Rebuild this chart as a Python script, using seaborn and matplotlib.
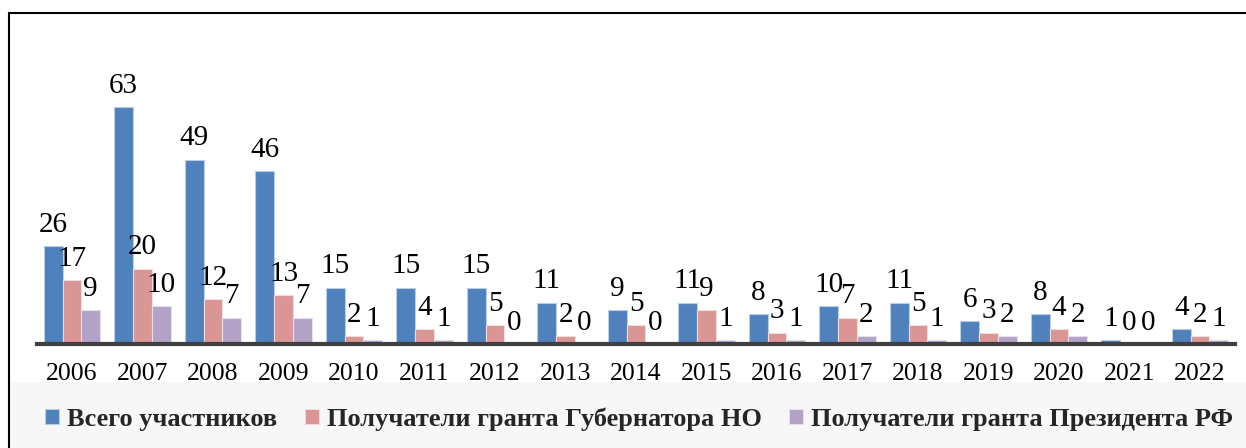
import matplotlib
matplotlib.use("Agg")
import matplotlib.pyplot as plt
from matplotlib.patches import Rectangle, Patch
import seaborn as sns
import pandas as pd

years = ["2006", "2007", "2008", "2009", "2010", "2011", "2012", "2013", "2014",
         "2015", "2016", "2017", "2018", "2019", "2020", "2021", "2022"]
total = [26, 63, 49, 46, 15, 15, 15, 11, 9, 11, 8, 10, 11, 6, 8, 1, 4]
governor = [17, 20, 12, 13, 2, 4, 5, 2, 5, 9, 3, 7, 5, 3, 4, 0, 2]
president = [9, 10, 7, 7, 1, 1, 0, 0, 0, 1, 1, 2, 1, 2, 2, 0, 1]
series_names = ["Всего участников",
                "Получатели гранта Губернатора НО",
                "Получатели гранта Президента РФ"]
colors = ["#4F81BD", "#D99694", "#B3A2C7"]
edge_colors = ["#B9CDE5", "#F2DCDB", "#E6E0EC"]

rows = []
for name, vals in zip(series_names, [total, governor, president]):
    for y, v in zip(years, vals):
        rows.append({"year": y, "value": v, "series": name})
df = pd.DataFrame(rows)

sns.set_theme(style="white")
plt.rcParams["font.family"] = ["Liberation Serif", "DejaVu Serif"]

fig = plt.figure(figsize=(12.46, 4.48), dpi=100)
ax = fig.add_axes([0.0295, 0.2321, 0.9619, 0.5878])

sns.barplot(data=df, x="year", y="value", hue="series", order=years,
            hue_order=series_names, palette=colors, width=0.8,
            ax=ax, legend=False, saturation=1)

for cont, ec in zip(ax.containers, edge_colors):
    for bar in cont:
        bar.set_edgecolor(ec)
        bar.set_linewidth(0.8)
    ax.bar_label(cont, labels=[str(int(b.get_height())) for b in cont],
                 padding=6, fontsize=21, color="black")

ax.set_ylim(0, 70)
ax.set_xlim(-0.5, len(years) - 0.5)
ax.set_xlabel("")
ax.set_ylabel("")
ax.set_yticks([])
for s in ["top", "left", "right"]:
    ax.spines[s].set_visible(False)
ax.spines["bottom"].set_color("#404040")
ax.spines["bottom"].set_linewidth(3)
ax.tick_params(axis="x", length=0, pad=13.5, labelsize=18.5, colors="black")
ax.set_facecolor("none")

# legend background box (overlaps tick label bottoms as in reference)
fig.add_artist(Rectangle((10 / 1246, 0), 1.0, (448 - 382) / 448,
                         transform=fig.transFigure, facecolor="#F7F7F7",
                         edgecolor="none", zorder=5))
# outer chart border
fig.add_artist(Rectangle((8.5 / 1246, -0.05), 1.05, 1.05 - 13.5 / 448,
                         transform=fig.transFigure, facecolor="none",
                         edgecolor="black", linewidth=1.5, zorder=6))

handles = [Patch(facecolor=c, edgecolor=e, linewidth=0.8) for c, e in zip(colors, edge_colors)]
leg = fig.legend(handles, series_names, loc="center", bbox_to_anchor=(0.513, 0.064),
                 ncol=3, frameon=False, handlelength=0.52, handleheight=0.52,
                 handletextpad=0.3, columnspacing=1.05,
                 prop={"family": ["Liberation Serif"], "weight": "bold", "size": 19})
leg.set_zorder(7)

fig.savefig("out.png", dpi=100)
